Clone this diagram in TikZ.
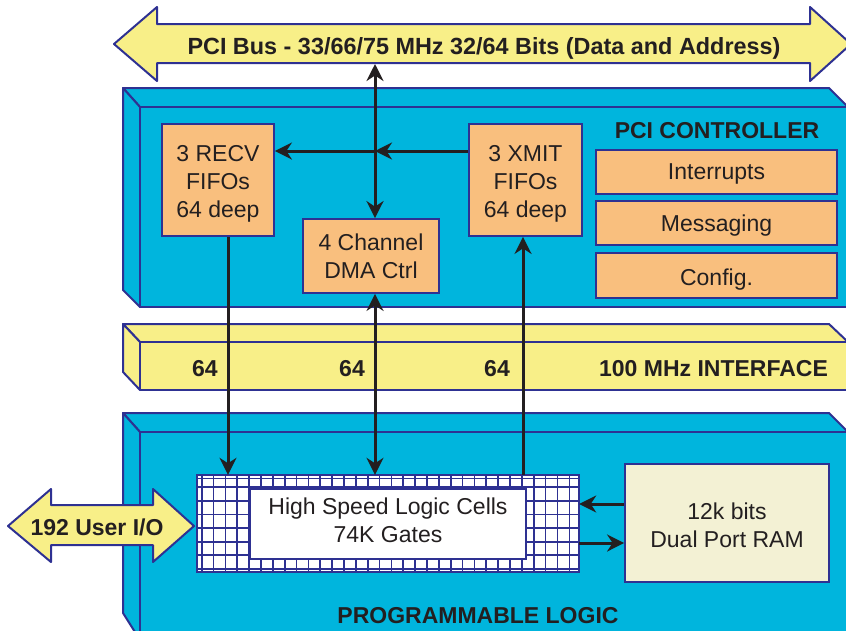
\documentclass[tikz,border=0pt]{standalone}
\usepackage{fontspec}
\setmainfont{Liberation Sans}
\usetikzlibrary{arrows.meta}
\definecolor{cyanbox}{HTML}{00B5DD}
\definecolor{edgeblue}{HTML}{2E3192}
\definecolor{yellowb}{HTML}{F8EF88}
\definecolor{orangeb}{HTML}{F9BF7E}
\definecolor{ramfill}{HTML}{F3F1D4}
\definecolor{txt}{HTML}{231F20}
\newcommand\regf{\fontsize{23}{28}\selectfont}
\newcommand\bldf{\fontsize{23}{28}\selectfont\bfseries}
\newcommand\upstrut[1]{\rule{0pt}{#1}}
\newcommand\dnstrut[1]{\rule[-#1]{0pt}{#1}}
\begin{document}
\begin{tikzpicture}[x=1pt,y=-1pt,
  >={Stealth[length=17pt,width=17pt,inset=5.5pt]},
  face/.style={fill=cyanbox,draw=edgeblue,line width=2pt,line join=round},
  ybar/.style={fill=yellowb,draw=edgeblue,line width=2pt,line join=round},
  obox/.style={rectangle,fill=orangeb,draw=edgeblue,line width=1.8pt,inner sep=0pt,align=center,font=\regf,text=txt},
  onebox/.style={obox,text depth=0pt},
  wbox/.style={obox,fill=white},
  rbox/.style={obox,fill=ramfill},
  lbl/.style={font=\bldf,text=txt,inner sep=0pt,anchor=base},
  conn/.style={draw=txt,line width=3pt},
  gridl/.style={draw=edgeblue,line width=1.7pt}]
\useasboundingbox (0,0) rectangle (846,630);
\clip (0,0) rectangle (846,630);

% ---------- PCI bus double arrow ----------
\draw[ybar] (114,44) -- (157,7) -- (157,24) -- (810,24) -- (810,7) -- (851,44)
  -- (810,81) -- (810,63) -- (157,63) -- (157,81) -- cycle;
\node[lbl, font=\fontsize{23.4}{28}\selectfont\bfseries] (bus) at (484,54) {PCI Bus - 33/66/75 MHz 32/64 Bits (Data and Address)};
\coordinate (busbot) at (375,64);

% ---------- PCI controller box ----------
\draw[face] (123,88) -- (829,88) -- (848,107) -- (140,107) -- cycle;
\draw[face] (123,88) -- (140,107) -- (140,307) -- (123,290) -- cycle;
\draw[face] (140,107) rectangle (852,307);
\node[lbl] (pcititle) at (717,138) {PCI CONTROLLER};

\node[obox, minimum width=112pt, minimum height=112pt] (recv) at (218,180) {\upstrut{23pt}3 RECV\\FIFOs\\64 deep};
\node[obox, minimum width=136pt, minimum height=74pt] (dma) at (371,256) {4 Channel\\DMA Ctrl};
\node[obox, minimum width=113pt, minimum height=112pt] (xmit) at (525.5,180) {\upstrut{23pt}3 XMIT\\FIFOs\\64 deep};
\node[onebox, minimum width=241pt, minimum height=44pt] (intr) at (716.5,172) {Interrupts};
\node[onebox, minimum width=241pt, minimum height=44pt] (msg) at (716.5,223) {Messaging};
\node[onebox, minimum width=241pt, minimum height=45pt] (cfg) at (716.5,275.5) {\upstrut{20pt}Config.};

% ---------- 100 MHz interface bar ----------
\draw[ybar] (123,324) -- (829,324) -- (848,342) -- (140,342) -- cycle;
\draw[ybar] (123,324) -- (140,342) -- (140,390) -- (123,372) -- cycle;
\draw[ybar] (140,342) rectangle (852,390);
\node[lbl] (w1) at (205,376) {64};
\node[lbl] (w2) at (352,376) {64};
\node[lbl] (w3) at (497,376) {64};
\node[lbl] (ifc) at (713.5,376) {100 MHz INTERFACE};

% ---------- Programmable logic box ----------
\draw[face] (123,413) -- (829,413) -- (848,432) -- (140,432) -- cycle;
\draw[face] (123,413) -- (140,432) -- (140,640) -- (123,613) -- cycle;
\draw[face] (140,432) rectangle (852,650);
\node[lbl] (pltitle) at (478,623) {PROGRAMMABLE LOGIC};

% grid of logic cells
\node[rectangle, fill=white, minimum width=382pt, minimum height=97pt, inner sep=0pt] (grid) at (388,523.5) {};
\foreach \i in {0,...,31} {
  \draw[gridl] ({201.7+11.86*\i},475) -- ({201.7+11.86*\i},572);
}
\draw[gridl] (197,478.5) -- (579,478.5);
\foreach \j in {0,...,6} {
  \draw[gridl] (197,{487.3+13.6*\j}) -- (579,{487.3+13.6*\j});
}
\draw[draw=edgeblue, line width=2.2pt] (grid.north west) rectangle (grid.south east);
\node[wbox, line width=2pt, minimum width=276pt, minimum height=70pt] (hs) at (388,523.7) {High Speed Logic Cells\\74K Gates\dnstrut{8pt}};

\node[rbox, minimum width=204pt, minimum height=118pt] (ram) at (727,523) {\upstrut{21pt}12k bits\\Dual Port RAM};

% ---------- 192 User I/O double arrow ----------
\draw[ybar] (8,526) -- (51,489) -- (51,505) -- (153,505) -- (153,489) -- (194,526)
  -- (153,562) -- (153,545) -- (51,545) -- (51,562) -- cycle;
\node[lbl] (uio) at (97,535) {192 User I/O};

% ---------- connectors ----------
\coordinate (hline) at (0,151);
\coordinate (rx) at (228,0);
\coordinate (tx) at (523,0);
\coordinate (ramin) at ([yshift=19pt]ram.west);
\coordinate (ramout) at ([yshift=-20pt]ram.west);

\draw[conn,<->] (busbot) -- (busbot |- dma.north);
\draw[conn,->] (xmit.west |- hline) -- (busbot |- hline);
\draw[conn,->] (busbot |- hline) -- (recv.east |- hline);
\draw[conn,->] (recv.south -| rx) -- (grid.north -| rx);
\draw[conn,<->] (dma.south -| busbot) -- (grid.north -| busbot);
\draw[conn,->] (grid.north -| tx) -- (xmit.south -| tx);
\draw[conn,->] (ramin) -- (ramin -| grid.east);
\draw[conn,->] (grid.east |- ramout) -- (ramout);
\end{tikzpicture}
\end{document}
